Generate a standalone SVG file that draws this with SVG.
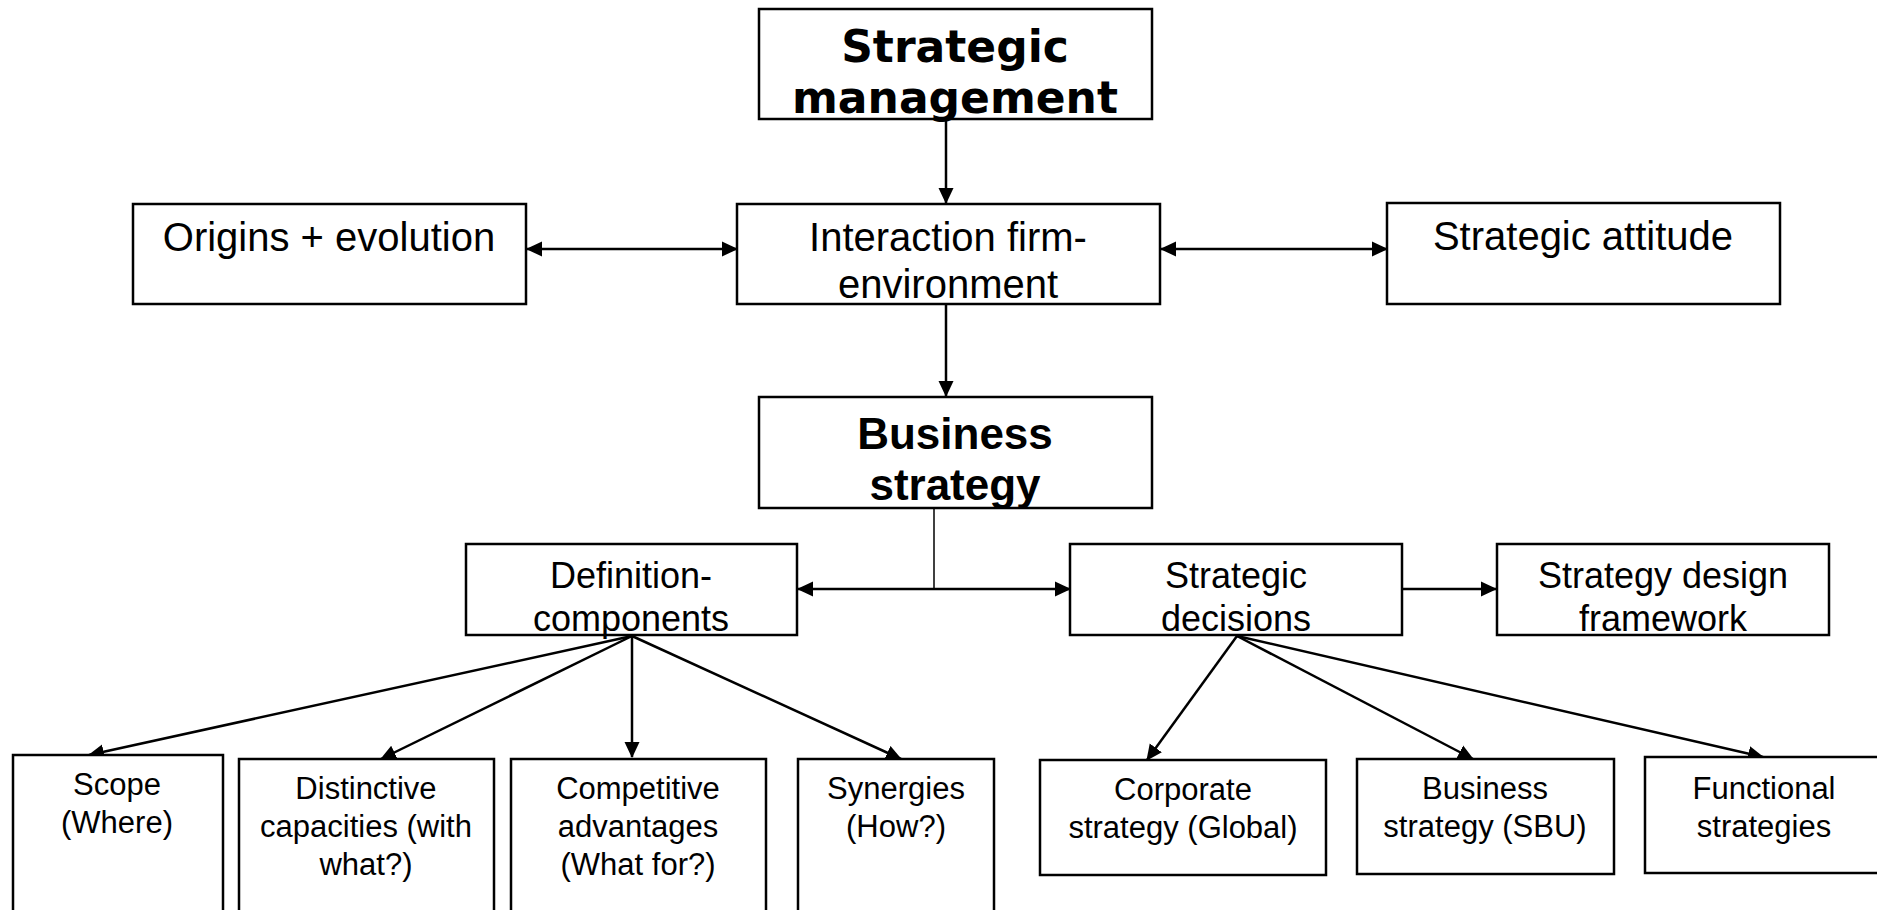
<svg xmlns="http://www.w3.org/2000/svg" width="1877" height="910" viewBox="0 0 1877 910">
  <style>
    .box { fill: #ffffff; stroke: #000000; stroke-width: 2.5; }
    .t { font-family: "Liberation Sans", Arial, sans-serif; fill: #000000; text-anchor: middle; }
    .t40 { font-size: 40px; }
    .t36 { font-size: 36px; }
    .t32 { font-size: 31px; }
    .tb { font-family: "DejaVu Sans", Verdana, sans-serif; font-weight: bold; font-size: 44px; fill: #000000; text-anchor: middle; }
    .tb2 { font-family: "Liberation Sans", Arial, sans-serif; font-weight: bold; font-size: 44px; fill: #000000; text-anchor: middle; }
    .edge { fill: none; stroke: #000000; stroke-width: 2.5; }
    .arr { marker-end: url(#head); }
    .both { marker-start: url(#head); marker-end: url(#head); }
  </style>
  <defs>
    <marker id="head" markerUnits="userSpaceOnUse" markerWidth="16" markerHeight="16" viewBox="0 0 16 16" refX="15" refY="8" orient="auto-start-reverse">
      <path d="M0,0.5 L16,8 L0,15.5 Z" fill="#000000"/>
    </marker>
  </defs>

  <rect width="1877" height="910" fill="#ffffff"/>

  <!-- connectors -->
  <g id="connectors">
    <line class="edge arr" x1="946" y1="119" x2="946" y2="203"/>
    <line class="edge both" x1="527" y1="249" x2="737" y2="249"/>
    <line class="edge both" x1="1161" y1="249" x2="1387" y2="249"/>
    <line class="edge arr" x1="946" y1="304" x2="946" y2="396"/>
    <line class="edge" x1="934" y1="508" x2="934" y2="589" style="stroke-width:1.5"/>
    <line class="edge both" x1="798" y1="589" x2="1070" y2="589"/>
    <line class="edge arr" x1="1403" y1="589" x2="1496" y2="589"/>
    <line class="edge arr" x1="632" y1="636" x2="89" y2="755"/>
    <line class="edge arr" x1="632" y1="636" x2="381" y2="759"/>
    <line class="edge arr" x1="632" y1="636" x2="632" y2="757"/>
    <line class="edge arr" x1="632" y1="636" x2="901" y2="759"/>
    <line class="edge arr" x1="1237" y1="636" x2="1147" y2="760"/>
    <line class="edge arr" x1="1237" y1="636" x2="1473" y2="759"/>
    <line class="edge arr" x1="1237" y1="636" x2="1763" y2="757"/>
  </g>

  <g id="strategic-management">
    <rect class="box" x="759" y="9" width="393" height="110"/>
    <text class="tb" x="955" y="62">Strategic</text>
    <text class="tb" x="955" y="113">management</text>
  </g>

  <g id="origins-evolution">
    <rect class="box" x="133" y="204" width="393" height="100"/>
    <text class="t t40" x="329" y="251">Origins + evolution</text>
  </g>

  <g id="interaction">
    <rect class="box" x="737" y="204" width="423" height="100"/>
    <text class="t t40" x="948" y="251">Interaction firm-</text>
    <text class="t t40" x="948" y="298">environment</text>
  </g>

  <g id="strategic-attitude">
    <rect class="box" x="1387" y="203" width="393" height="101"/>
    <text class="t t40" x="1583" y="250">Strategic attitude</text>
  </g>

  <g id="business-strategy">
    <rect class="box" x="759" y="397" width="393" height="111"/>
    <text class="tb2" x="955" y="449">Business</text>
    <text class="tb2" x="955" y="500">strategy</text>
  </g>

  <g id="definition-components">
    <rect class="box" x="466" y="544" width="331" height="91"/>
    <text class="t t36" x="631" y="588">Definition-</text>
    <text class="t t36" x="631" y="631">components</text>
  </g>

  <g id="strategic-decisions">
    <rect class="box" x="1070" y="544" width="332" height="91"/>
    <text class="t t36" x="1236" y="588">Strategic</text>
    <text class="t t36" x="1236" y="631">decisions</text>
  </g>

  <g id="strategy-design-framework">
    <rect class="box" x="1497" y="544" width="332" height="91"/>
    <text class="t t36" x="1663" y="588">Strategy design</text>
    <text class="t t36" x="1663" y="631">framework</text>
  </g>

  <g id="scope">
    <rect class="box" x="13" y="755" width="210" height="170"/>
    <text class="t t32" x="117" y="795">Scope</text>
    <text class="t t32" x="117" y="833">(Where)</text>
  </g>

  <g id="distinctive-capacities">
    <rect class="box" x="239" y="759" width="255" height="170"/>
    <text class="t t32" x="366" y="799">Distinctive</text>
    <text class="t t32" x="366" y="837">capacities (with</text>
    <text class="t t32" x="366" y="875">what?)</text>
  </g>

  <g id="competitive-advantages">
    <rect class="box" x="511" y="759" width="255" height="170"/>
    <text class="t t32" x="638" y="799">Competitive</text>
    <text class="t t32" x="638" y="837">advantages</text>
    <text class="t t32" x="638" y="875">(What for?)</text>
  </g>

  <g id="synergies">
    <rect class="box" x="798" y="759" width="196" height="170"/>
    <text class="t t32" x="896" y="799">Synergies</text>
    <text class="t t32" x="896" y="837">(How?)</text>
  </g>

  <g id="corporate-strategy">
    <rect class="box" x="1040" y="760" width="286" height="115"/>
    <text class="t t32" x="1183" y="800">Corporate</text>
    <text class="t t32" x="1183" y="838">strategy (Global)</text>
  </g>

  <g id="business-strategy-sbu">
    <rect class="box" x="1357" y="759" width="257" height="115"/>
    <text class="t t32" x="1485" y="799">Business</text>
    <text class="t t32" x="1485" y="837">strategy (SBU)</text>
  </g>

  <g id="functional-strategies">
    <rect class="box" x="1645" y="757" width="250" height="116"/>
    <text class="t t32" x="1764" y="799">Functional</text>
    <text class="t t32" x="1764" y="837">strategies</text>
  </g>
</svg>
